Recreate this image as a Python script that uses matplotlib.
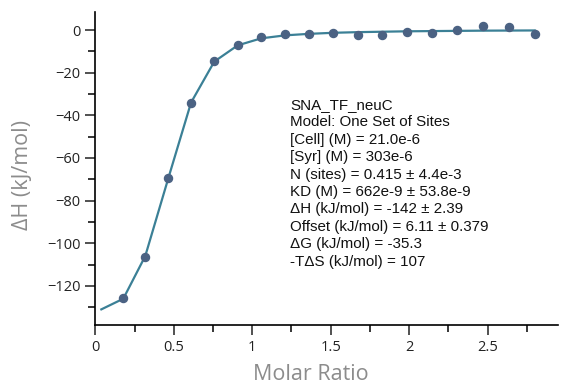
import numpy as np
import matplotlib.pyplot as plt
from matplotlib.ticker import MultipleLocator

# integrated heats per injection
molar_ratio = [0.178, 0.318, 0.465, 0.610, 0.758, 0.907, 1.057, 1.210, 1.361,
               1.516, 1.673, 1.828, 1.987, 2.146, 2.308, 2.471, 2.635, 2.800]
dH = [-125.8, -106.3, -69.5, -34.2, -14.5, -6.9, -3.1, -1.7, -1.7,
      -1.6, -2.2, -2.2, -1.1, -1.3, 0.0, 1.7, 1.4, -2.0]

# one set of sites fit
fit_x = [0.038] + molar_ratio
fit_y = [-131.0, -126.0, -106.0, -69.5, -34.0, -14.8, -7.2, -3.9, -2.5, -1.8,
         -1.3, -1.0, -0.8, -0.6, -0.5, -0.4, -0.3, -0.25, -0.2]

fit_info = ["SNA_TF_neuC",
            "Model: One Set of Sites",
            "[Cell] (M) = 21.0e-6",
            "[Syr] (M) = 303e-6",
            "N (sites) = 0.415 \u00b1 4.4e-3",
            "KD (M) = 662e-9 \u00b1 53.8e-9",
            "\u0394H (kJ/mol) = -142 \u00b1 2.39",
            "Offset (kJ/mol) = 6.11 \u00b1 0.379",
            "\u0394G (kJ/mol) = -35.3",
            "-T\u0394S (kJ/mol) = 107"]

fig = plt.figure(figsize=(5.61, 3.85), dpi=100)
ax = fig.add_axes([0.170, 0.156, 0.825, 0.812])

ax.plot(fit_x, fit_y, color="#3b8096", lw=1.6, zorder=2)
ax.plot(molar_ratio, dH, "o", color="#4b6283", ms=5.8, zorder=3)

ax.set_xlim(0, 2.95)
ax.set_ylim(-138.3, 8.3)
ax.xaxis.set_major_locator(MultipleLocator(0.5))
ax.xaxis.set_minor_locator(MultipleLocator(0.25))
ax.yaxis.set_major_locator(MultipleLocator(20))
ax.yaxis.set_minor_locator(MultipleLocator(10))
ax.set_xticks([0, 0.5, 1, 1.5, 2, 2.5])
ax.set_xticklabels(["0", "0.5", "1", "1.5", "2", "2.5"])

for s in ["top", "right"]:
    ax.spines[s].set_visible(False)
for s in ["left", "bottom"]:
    ax.spines[s].set_linewidth(1.2)
ax.tick_params(which="major", direction="out", length=7, width=1.1,
               labelsize=10.5, colors="#222222")
ax.tick_params(which="minor", direction="out", length=5, width=1.1)
for lab in ax.get_xticklabels() + ax.get_yticklabels():
    lab.set_family("Open Sans")

ax.set_xlabel("Molar Ratio", fontsize=15.5, color="#8c8c8c",
              family="Open Sans")
ax.set_ylabel("\u0394H (kJ/mol)", fontsize=15.5, color="#8c8c8c",
              family="Open Sans")
ax.xaxis.set_label_coords(0.466, -0.125)
ax.yaxis.set_label_coords(-0.135, 0.48)

for i, line in enumerate(fit_info):
    fig.text(290 / 561, 1 - (105 + 17.4 * i) / 385, line, fontsize=10.9,
             family="Liberation Sans", va="center", ha="left", color="#111111")

fig.savefig("out.png", dpi=100)
